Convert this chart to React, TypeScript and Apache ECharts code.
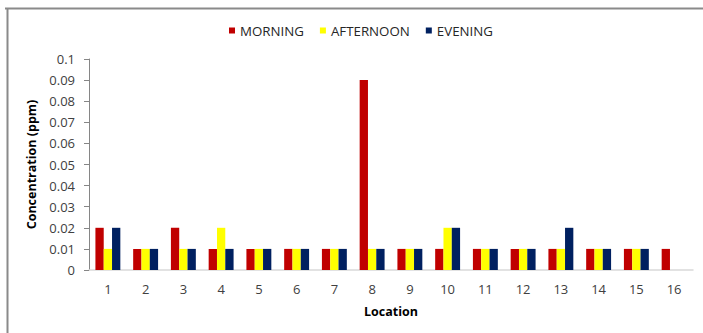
import React, { useEffect, useRef } from "react";
import * as echarts from "echarts";

const categories = ["1","2","3","4","5","6","7","8","9","10","11","12","13","14","15","16"];
const morning = [0.02,0.01,0.02,0.01,0.01,0.01,0.01,0.09,0.01,0.01,0.01,0.01,0.01,0.01,0.01,0.01];
const afternoon = [0.01,0.01,0.01,0.02,0.01,0.01,0.01,0.01,0.01,0.02,0.01,0.01,0.01,0.01,0.01,0];
const evening = [0.02,0.01,0.01,0.01,0.01,0.01,0.01,0.01,0.01,0.02,0.01,0.01,0.02,0.01,0.01,0];
const seriesNames = ["MORNING", "AFTERNOON", "EVENING"];
const colors = ["#C00000", "#FFFF00", "#002060"];

const FONT = "'Open Sans', 'Liberation Sans', sans-serif";

export default function App() {
  const ref = useRef<HTMLDivElement>(null);
  useEffect(() => {
    if (!ref.current) return;
    const chart = echarts.init(ref.current, null, { renderer: "svg" });
    const data = [morning, afternoon, evening];
    chart.setOption({
      animation: false,
      textStyle: { fontFamily: FONT },
      legend: {
        top: 19,
        left: 224,
        itemWidth: 6,
        itemHeight: 6,
        itemGap: 16,
        icon: "rect",
        textStyle: { fontSize: 13.3, color: "#262626", fontFamily: FONT },
        data: seriesNames,
      },
      grid: { left: 89, right: 10, top: 59, bottom: 63 },
      xAxis: {
        type: "category",
        data: categories,
        name: "Location",
        nameLocation: "middle",
        nameGap: 35,
        nameTextStyle: { fontWeight: "bold", fontSize: 12.5, color: "#000", fontFamily: FONT },
        axisLine: { lineStyle: { color: "#d9d9d9", width: 1.5 } },
        axisTick: { show: false },
        axisLabel: { color: "#404040", fontSize: 13, margin: 12, fontFamily: FONT },
      },
      yAxis: {
        type: "value",
        min: 0,
        max: 0.1,
        interval: 0.01,
        name: "Concentration (ppm)",
        nameLocation: "middle",
        nameGap: 44,
        nameTextStyle: { fontWeight: "bold", fontSize: 12.5, color: "#000", fontFamily: FONT },
        axisLine: { show: true, lineStyle: { color: "#868686" } },
        axisTick: { show: true, length: 5, lineStyle: { color: "#868686" } },
        splitLine: { show: false },
        axisLabel: {
          color: "#404040",
          fontSize: 13,
          margin: 14,
          fontFamily: FONT,
          formatter: (v: number) => String(+v.toFixed(2)),
        },
      },
      series: seriesNames.map((n, i) => ({
        name: n,
        type: "bar",
        data: data[i],
        itemStyle: { color: colors[i] },
        barGap: "0%",
        barCategoryGap: "34%",
      })),
      graphic: [
        { type: "line", shape: { x1: 5, y1: 8.5, x2: 703, y2: 8.5 }, style: { stroke: "#8a8a8a", lineWidth: 2 } },
        { type: "line", shape: { x1: 7.5, y1: 8, x2: 7.5, y2: 333 }, style: { stroke: "#8a8a8a", lineWidth: 2 } },
      ],
    });
    return () => chart.dispose();
  }, []);
  return <div ref={ref} style={{ position: "absolute", left: 0, top: 0, width: 703, height: 333 }} />;
}
